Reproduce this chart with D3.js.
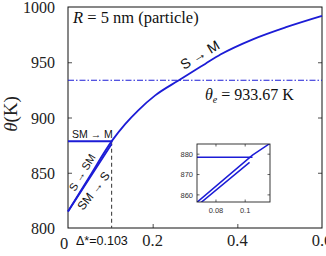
<!DOCTYPE html>
<html><head><meta charset="utf-8">
<script src="https://cdn.jsdelivr.net/npm/d3@7"></script>
<style>body{margin:0;background:#fff}svg{display:block}</style>
</head><body>
<script>
// Data
const curveSM = [[0,815],[0.05,846],[0.105,879.5],[0.135,894],[0.166,906.5],[0.206,920],[0.261,933.5],[0.324,948.5],[0.36,957],[0.438,971],[0.517,982],[0.6,992]];
const curveSMS = [[0,815],[0.05,844.5],[0.103,876]];
const lineSMM = [[0,878.5],[0.105,878.5]];
const thetaE = 933.67;
const deltaStar = 0.103;
const xTicks = [0,0.2,0.4,0.6];
const xTickLabels = ["0","0.2","0.4","0.6"];
const yTicks = [800,850,900,950,1000];
const insetXTicks = [0.08,0.1];
const insetYTicks = [860,870,880];

const W=326,H=256;
const svg=d3.select("body").append("svg").attr("width",W).attr("height",H);
const x=d3.scaleLinear().domain([0,0.6]).range([68,322]);
const y=d3.scaleLinear().domain([800,1000]).range([228,7]);
const blue="#1c1cd6";
const serif="'Liberation Serif','DejaVu Serif',serif";
const sans="'Liberation Sans',Arial,sans-serif";

// axes
const gx=svg.append("g").attr("transform","translate(0,228)")
  .call(d3.axisBottom(x).tickValues(xTicks.slice(1,3)).tickSize(-4).tickFormat(""));
const gy=svg.append("g").attr("transform","translate(68,0)")
  .call(d3.axisLeft(y).tickValues(yTicks.slice(1,4)).tickSize(-4).tickFormat(""));
const gr=svg.append("g").attr("transform","translate(322,0)")
  .call(d3.axisRight(y).tickValues(yTicks.slice(1,4)).tickSize(-4).tickFormat(""));
[gx,gy,gr].forEach(g=>{g.select(".domain").remove();g.selectAll("line").attr("stroke","#222").attr("stroke-width",0.8);});
svg.append("rect").attr("x",68).attr("y",7).attr("width",254).attr("height",221)
  .attr("fill","none").attr("stroke","#111").attr("stroke-width",1);

// tick labels
svg.selectAll(".yl").data(yTicks).enter().append("text")
  .attr("x",55).attr("y",d=>y(d)+6).attr("text-anchor","end")
  .attr("font-family",serif).attr("font-size",16).attr("fill","#222").text(d=>d);
svg.selectAll(".xl").data(xTicks).enter().append("text")
  .attr("x",(d,i)=>i===0?x(d)-4:x(d)).attr("y",(d,i)=>i===0?249:246).attr("text-anchor","middle")
  .attr("font-family",serif).attr("font-size",16.5).attr("fill","#222").text((d,i)=>xTickLabels[i]);

// y label
svg.append("text").attr("transform","translate(17,114) rotate(-90)").attr("text-anchor","middle")
  .attr("font-family",serif).attr("font-size",19).attr("fill","#222")
  .html("<tspan font-style='italic'>θ</tspan>(K)");
// x label (cut off at bottom edge, as in the reference)
svg.append("text").attr("x",195).attr("y",270).attr("text-anchor","middle")
  .attr("font-family",serif).attr("font-size",16).attr("font-style","italic").attr("fill","#222").text("Δ\u0304");

// theta_e line
svg.append("line").attr("x1",x(0)).attr("x2",x(0.6)).attr("y1",y(thetaE)).attr("y2",y(thetaE))
  .attr("stroke",blue).attr("stroke-width",1.1).attr("stroke-dasharray","6,2,1.5,2");
// dashed vertical
svg.append("line").attr("x1",x(deltaStar)).attr("x2",x(deltaStar)).attr("y1",y(878)).attr("y2",y(800))
  .attr("stroke","#444").attr("stroke-width",1.1).attr("stroke-dasharray","4,3");

const line=d3.line().x(d=>x(d[0])).y(d=>y(d[1])).curve(d3.curveMonotoneX);
[curveSM,curveSMS,lineSMM].forEach(c=>svg.append("path").attr("d",line(c))
  .attr("fill","none").attr("stroke",blue).attr("stroke-width",1.8));

// annotations
svg.append("text").attr("x",72).attr("y",137.5).attr("font-family",sans).attr("font-size",10.5).attr("fill","#111").text("SM → M");
svg.append("text").attr("transform","translate(75,192) rotate(-59)").attr("font-family",sans).attr("font-size",11).attr("fill","#111").text("S → SM");
svg.append("text").attr("transform","translate(83,211) rotate(-52)").attr("font-family",sans).attr("font-size",12).attr("fill","#111").text("SM → S");
svg.append("text").attr("transform","translate(184,70) rotate(-31)").attr("font-family",sans).attr("font-size",14).attr("fill","#111").text("S → M");
svg.append("text").attr("x",205).attr("y",100).attr("font-family",serif).attr("font-size",16).attr("fill","#111")
  .html("<tspan font-style='italic'>θ</tspan><tspan font-style='italic' font-size='10' dy='3'>e</tspan><tspan dy='-3'> = 933.67 K</tspan>");
svg.append("text").attr("x",73).attr("y",23).attr("font-family",serif).attr("font-size",16.5).attr("fill","#111")
  .html("<tspan font-style='italic'>R</tspan> = 5 nm (particle)");
svg.append("text").attr("x",76).attr("y",245).attr("font-family",sans).attr("font-size",12.5).attr("fill","#111").text("Δ*=0.103");

// inset
const ix=d3.scaleLinear().domain([0.067,0.117]).range([197,270]);
const iy=d3.scaleLinear().domain([856.5,885]).range([202,144]);
const ig=svg.append("g");
ig.append("rect").attr("x",197).attr("y",144).attr("width",73).attr("height",58).attr("fill","#fff");
ig.append("clipPath").attr("id","ic").append("rect").attr("x",197).attr("y",144).attr("width",73).attr("height",58);
const il=d3.line().x(d=>ix(d[0])).y(d=>iy(d[1]));
const cg=ig.append("g").attr("clip-path","url(#ic)");
[curveSM,curveSMS,lineSMM].forEach(c=>cg.append("path").attr("d",il(c))
  .attr("fill","none").attr("stroke",blue).attr("stroke-width",1.5));
ig.append("rect").attr("x",197).attr("y",144).attr("width",73).attr("height",58)
  .attr("fill","none").attr("stroke","#222").attr("stroke-width",0.9);
insetYTicks.forEach(v=>{
  ig.append("line").attr("x1",197).attr("x2",199.5).attr("y1",iy(v)).attr("y2",iy(v)).attr("stroke","#222").attr("stroke-width",0.7);
  ig.append("line").attr("x1",267.5).attr("x2",270).attr("y1",iy(v)).attr("y2",iy(v)).attr("stroke","#222").attr("stroke-width",0.7);
  ig.append("text").attr("x",193).attr("y",iy(v)+2.8).attr("text-anchor","end").attr("font-family",sans).attr("font-size",7.5).attr("fill","#333").text(v);
});
insetXTicks.forEach(v=>{
  ig.append("line").attr("x1",ix(v)).attr("x2",ix(v)).attr("y1",202).attr("y2",199.5).attr("stroke","#222").attr("stroke-width",0.7);
  ig.append("line").attr("x1",ix(v)).attr("x2",ix(v)).attr("y1",144).attr("y2",146.5).attr("stroke","#222").attr("stroke-width",0.7);
  ig.append("text").attr("x",ix(v)).attr("y",213).attr("text-anchor","middle").attr("font-family",sans).attr("font-size",7.5).attr("fill","#333").text(v);
});
</script>
</body></html>
